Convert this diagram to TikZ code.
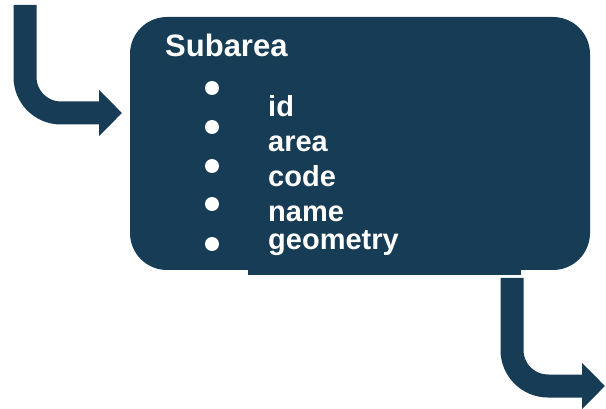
\documentclass[tikz,border=0pt]{standalone}
\usepackage{fontspec}
\setmainfont{Liberation Sans}
\usetikzlibrary{arrows.meta}
\definecolor{navy}{HTML}{173C55}
\newcommand\FieldDot[2]{
  node[fill=white,circle,inner sep=0pt,minimum size=14pt] (#2) at #1 {}
}
\tikzset{
  field/.style={text=white,font=\bfseries\fontsize{29}{29}\selectfont,anchor=base west,inner sep=0pt},
  flow/.style={navy,line width=23pt,rounded corners=36pt,-{Triangle[length=23pt,width=45pt]}}
}

\begin{document}
\begin{tikzpicture}[x=1pt,y=-1pt]
\useasboundingbox (0,0) rectangle (606,409);
\node[fill=navy,rounded corners=37pt,minimum width=460pt,minimum height=253pt,inner sep=0pt] (subarea) at (360,143.5) {};
\fill[navy] (248,260) rectangle (521,275);
\node[field,font=\bfseries\fontsize{31}{31}\selectfont] (title) at (165,57) {Subarea};
\path \FieldDot{(212,88)}{d1} \FieldDot{(212,127)}{d2} \FieldDot{(212,166)}{d3}
  \FieldDot{(212,204)}{d4} \FieldDot{(212,244)}{d5};
\node[field] (id) at (268,117) {id};
\node[field] (area) at (268,152) {area};
\node[field] (code) at (268,187) {code};
\node[field] (name) at (268,222) {name};
\node[field] (geometry) at (268,250) {geometry};
\coordinate (in) at (25,5);
\coordinate (intip) at (122,113);
\coordinate (outstart) at (512,278);
\coordinate (out) at (605,386);
\draw[flow] (in) |- (intip);
\draw[flow] (outstart) |- (out);
\end{tikzpicture}
\end{document}
